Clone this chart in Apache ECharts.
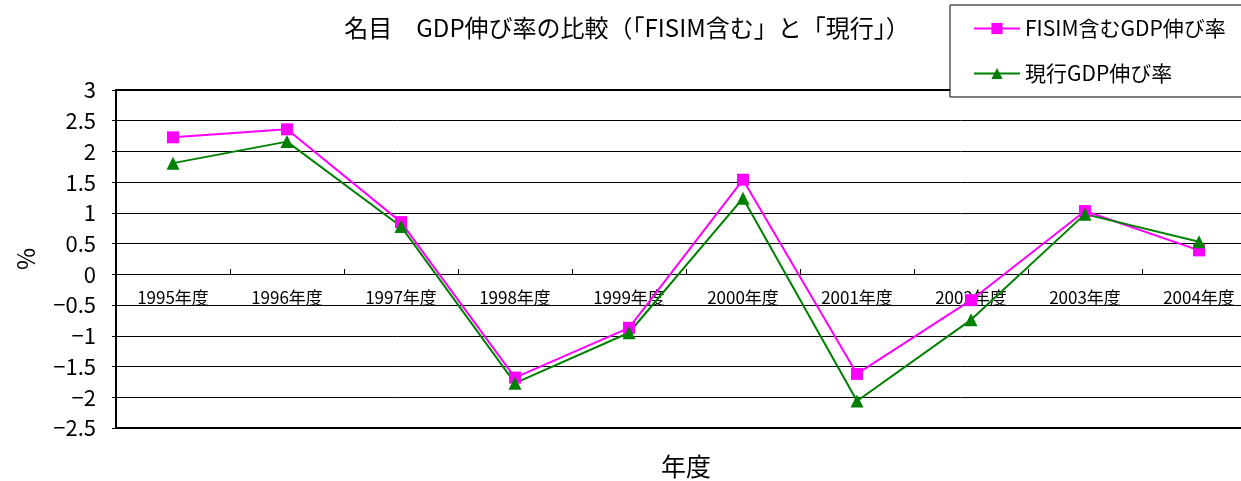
<!DOCTYPE html>
<html><head><meta charset="utf-8">
<script src="https://cdn.jsdelivr.net/npm/echarts@6/dist/echarts.min.js"></script>
<style>html,body{margin:0;padding:0;background:#fff}#c{width:1241px;height:481px}</style>
</head><body><div id="c"></div>
<script>
const categories = ['1995年度','1996年度','1997年度','1998年度','1999年度','2000年度','2001年度','2002年度','2003年度','2004年度'];
const fisimSeries = [2.23, 2.36, 0.85, -1.68, -0.87, 1.54, -1.62, -0.42, 1.03, 0.39];
const currentSeries = [1.81, 2.16, 0.78, -1.77, -0.95, 1.24, -2.06, -0.74, 0.98, 0.53];
const seriesNames = ['FISIM含むGDP伸び率', '現行GDP伸び率'];
const titleText = '名目　GDP伸び率の比較（「FISIM含む」と「現行」）';
const font = '"Noto Sans CJK JP", sans-serif';

const chart = echarts.init(document.getElementById('c'));
chart.setOption({
  animation: false,
  backgroundColor: '#fff',
  title: {
    text: titleText, left: 622, top: 11, textAlign: 'center',
    textStyle: { fontFamily: font, fontSize: 24, fontWeight: 'normal', color: '#000' }
  },
  legend: {
    orient: 'vertical', left: 950, top: 5,
    data: seriesNames,
    backgroundColor: '#fff', borderColor: '#000', borderWidth: 1, borderRadius: 0,
    padding: [13, 40, 13, 23],
    itemWidth: 46, itemHeight: 14, itemGap: 24,
    textStyle: { fontFamily: font, fontSize: 21, color: '#000' }
  },
  grid: { left: 116, right: -15, top: 90, bottom: 53, show: true, borderColor: '#000', borderWidth: 2, outerBoundsMode: 'none', containLabel: false },
  xAxis: {
    type: 'category', data: categories, boundaryGap: true,
    position: 'bottom', offset: -154,
    axisLine: { onZero: false, lineStyle: { color: '#000', width: 1 } },
    axisTick: { show: true, inside: true, length: 5, lineStyle: { color: '#000' } },
    axisLabel: { margin: 15, fontFamily: font, fontSize: 17, color: '#000' },
    name: '年度', nameLocation: 'middle', nameGap: 180,
    nameTextStyle: { fontFamily: font, fontSize: 25, color: '#000' }
  },
  yAxis: {
    type: 'value', min: -2.5, max: 3, interval: 0.5,
    axisLine: { show: true, lineStyle: { color: '#000', width: 2 } },
    axisTick: { show: true, length: 4, lineStyle: { color: '#000' } },
    axisLabel: { margin: 20, fontFamily: font, fontSize: 22, color: '#000',
      formatter: v => String(v).replace('-', '\u2212') },
    splitLine: { show: true, lineStyle: { color: '#000', width: 1 } },
    name: '%', nameLocation: 'middle', nameGap: 78, nameRotate: 90,
    nameTextStyle: { fontFamily: font, fontSize: 24, color: '#000' }
  },
  series: [
    {
      name: seriesNames[0], type: 'line', data: fisimSeries,
      symbol: 'rect', symbolSize: 12,
      lineStyle: { color: '#FF00FF', width: 2 },
      itemStyle: { color: '#FF00FF' }
    },
    {
      name: seriesNames[1], type: 'line', data: currentSeries,
      symbol: 'triangle', symbolSize: 13,
      lineStyle: { color: '#008000', width: 2 },
      itemStyle: { color: '#008000' }
    }
  ]
});
</script></body></html>
